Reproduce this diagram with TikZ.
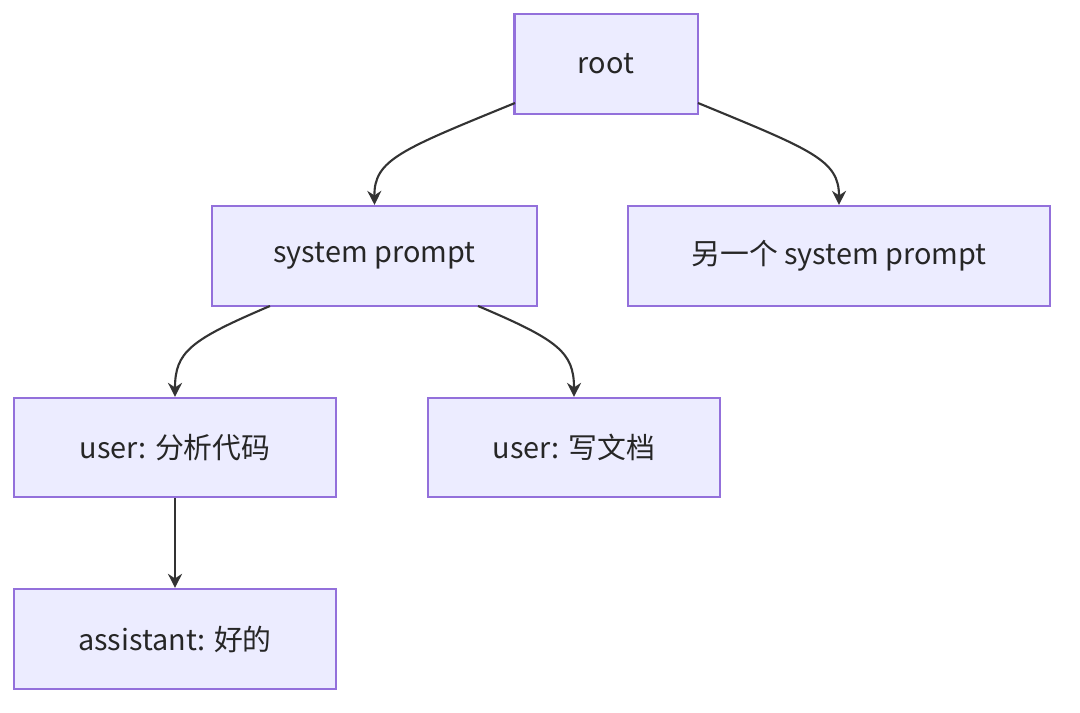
\documentclass[tikz,border=0pt]{standalone}
\usepackage{fontspec}
\setmainfont{Noto Sans CJK SC}
\usetikzlibrary{arrows.meta}
\definecolor{boxfill}{HTML}{ECECFF}
\definecolor{boxline}{HTML}{9370DB}
\definecolor{edge}{HTML}{333333}
\begin{document}
\begin{tikzpicture}[x=0.01cm,y=-0.01cm,
    box/.style={draw=boxline,fill=boxfill,line width=0.6pt,inner sep=0pt,
      font=\fontsize{8.2}{10}\selectfont,text=black!85},
    link/.style={draw=edge,line width=0.6pt,-{Stealth[length=4pt,width=4pt]}}]
  \useasboundingbox (0,0) rectangle (1080,713);
  % boxes
  \node[box,minimum width=1.83cm,minimum height=1cm] (root) at (606,64) {root};
  \node[box,minimum width=3.25cm,minimum height=1cm] (sys) at (374.5,256) {system prompt};
  \node[box,minimum width=4.22cm,minimum height=1cm] (alt) at (839,256) {另一个 system prompt};
  \node[box,minimum width=3.22cm,minimum height=0.99cm] (ana) at (175,447.5) {user: 分析代码};
  \node[box,minimum width=2.92cm,minimum height=0.99cm] (doc) at (574,447.5) {user: 写文档};
  \node[box,minimum width=3.22cm,minimum height=1cm] (ast) at (175,639) {assistant: 好的};
  % edges
  \coordinate (r1) at (515,103);
  \coordinate (r2) at (698,103);
  \coordinate (s1) at (270,306);
  \coordinate (s2) at (478,306);
  \draw[link] (r1) .. controls (400,150) and (374,160) .. (sys.north);
  \draw[link] (r2) .. controls (812,150) and (839,160) .. (alt.north);
  \draw[link] (s1) .. controls (190,340) and (175,352) .. (ana.north);
  \draw[link] (s2) .. controls (558,340) and (574,352) .. (doc.north);
  \draw[link] (ana.south) -- (ast.north);
\end{tikzpicture}
\end{document}
